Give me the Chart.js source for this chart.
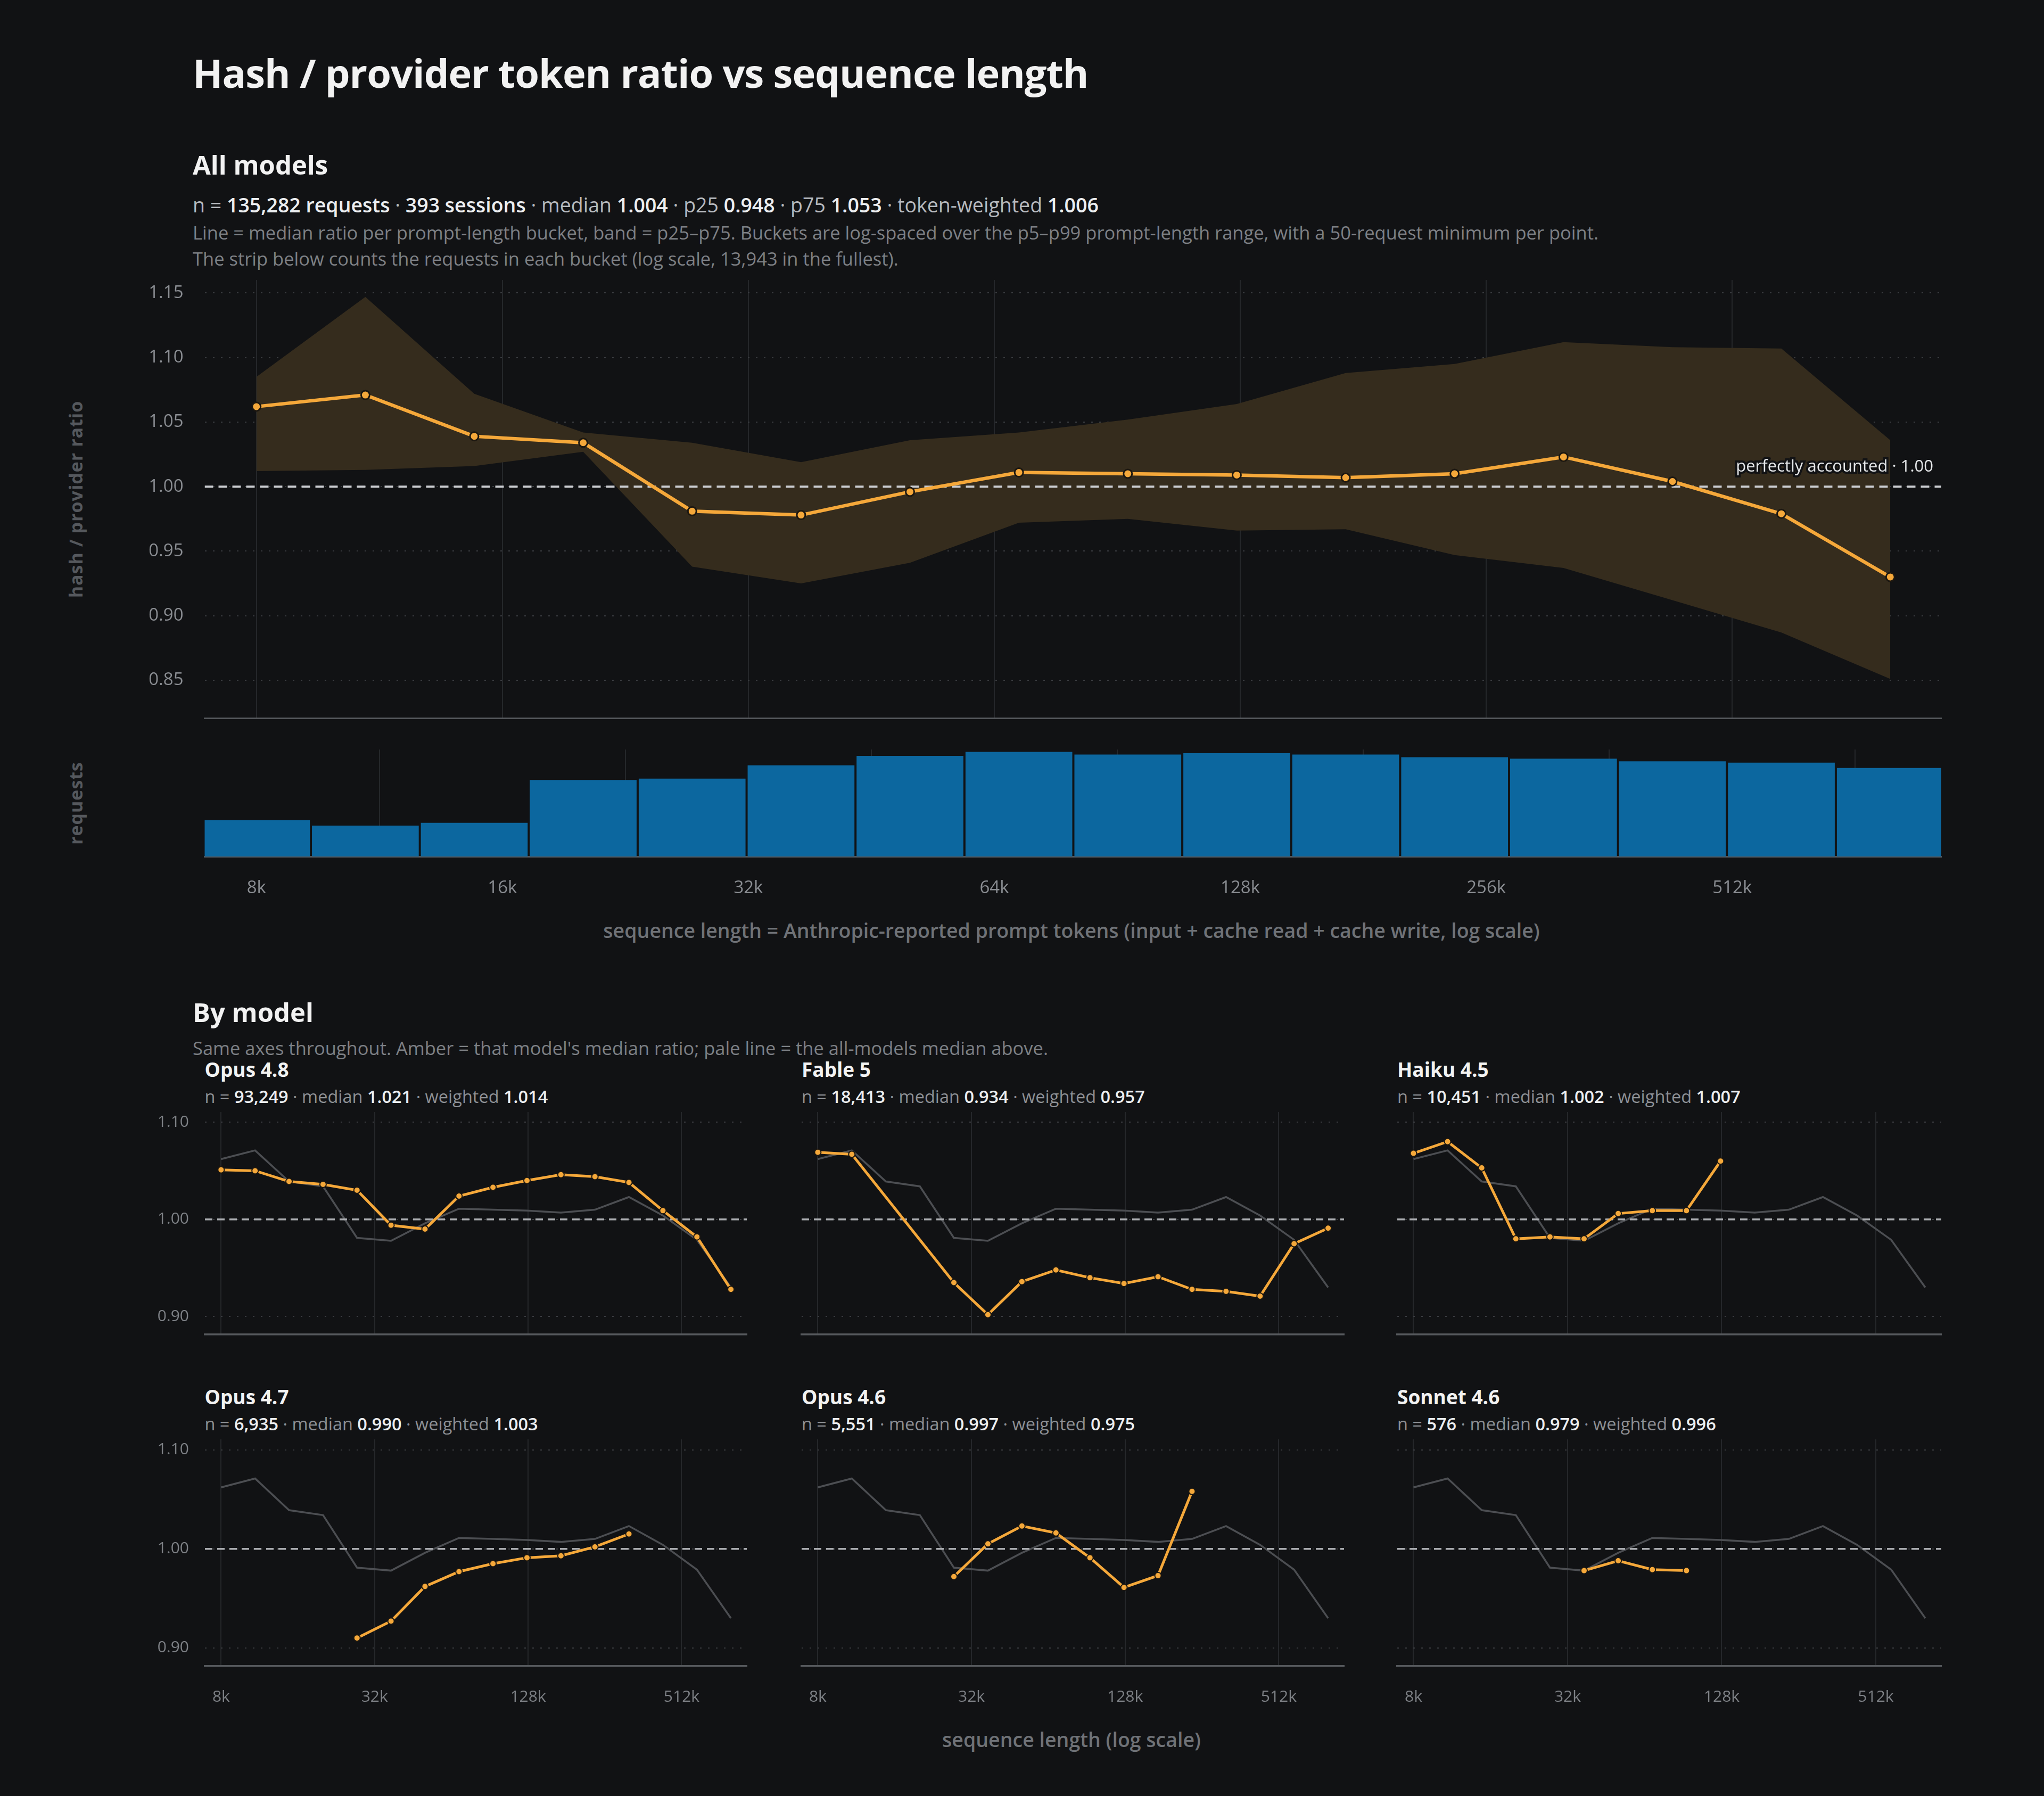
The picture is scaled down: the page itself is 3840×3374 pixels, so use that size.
<!DOCTYPE html>
<html>
<head>
<meta charset="utf-8">
<script src="https://cdn.jsdelivr.net/npm/chart.js@4"></script>
<style>
  body { margin: 0; background: #111214; width: 3840px; height: 3374px; position: relative; overflow: hidden; font-family: "Open Sans", Lato, sans-serif; }
  .t { position: absolute; line-height: 1; white-space: nowrap; }
  canvas { position: absolute; }
  .h1 { left: 362px; top: 100px; font-size: 74px; font-weight: 700; color: #f2f2f2; letter-spacing: -1px; }
  .h2 { font-size: 49px; font-weight: 700; color: #f2f2f2; left: 362px; }
  .stats { left: 362px; top: 366px; font-size: 37.5px; color: #b7babf; }
  .stats b, .small-stats b { color: #eceef0; font-weight: 600; }
  .note { left: 362px; font-size: 34.5px; color: #7d8085; }
  .ytitle { font-size: 34px; font-weight: 700; color: #55585d; transform: translate(-50%, -50%) rotate(-90deg); letter-spacing: 1px; }
  .xtitle { font-size: 37.5px; font-weight: 600; color: #6f7277; transform: translateX(-50%); }
  .small-title { font-size: 37px; font-weight: 700; color: #f2f2f2; }
  .small-stats { font-size: 32.5px; color: #8d9095; }
</style>
</head>
<body>
<div class="t h1">Hash / provider token ratio vs sequence length</div>
<div class="t h2" style="top:285px">All models</div>
<div class="t stats">n = <b>135,282 requests</b> · <b>393 sessions</b> · median <b>1.004</b> · p25 <b>0.948</b> · p75 <b>1.053</b> · token-weighted <b>1.006</b></div>
<div class="t note" style="top:420px">Line = median ratio per prompt-length bucket, band = p25–p75. Buckets are log-spaced over the p5–p99 prompt-length range, with a 50-request minimum per point.</div>
<div class="t note" style="top:469px">The strip below counts the requests in each bucket (log scale, 13,943 in the fullest).</div>
<div class="t ytitle" style="left:142px; top:938px">hash / provider ratio</div>
<div class="t ytitle" style="left:142px; top:1509px">requests</div>
<canvas id="main" width="3840" height="880" style="left:0; top:480px"></canvas>
<canvas id="strip" width="3840" height="340" style="left:0; top:1380px"></canvas>
<div class="t xtitle" style="left:2013px; top:1729px">sequence length = Anthropic-reported prompt tokens (input + cache read + cache write, log scale)</div>

<div class="t h2" style="top:1877px">By model</div>
<div class="t note" style="top:1952px">Same axes throughout. Amber = that model's median ratio; pale line = the all-models median above.</div>
<div id="smalls"></div>
<div class="t xtitle" style="left:2013px; top:3249px">sequence length (log scale)</div>

<script>
// bucket centres (prompt tokens)
const buckets = [8192, 11135, 15135, 20573, 27965, 38013, 51670, 70235, 95468, 129770, 176395, 239773, 325920, 443020, 602190, 818550]
const octaveTicks = [8192, 16384, 32768, 65536, 131072, 262144, 524288]
const smallTicks = [8192, 32768, 131072, 524288]

// all models
const median = [1.062, 1.071, 1.039, 1.034, 0.981, 0.978, 0.996, 1.011, 1.010, 1.009, 1.007, 1.010, 1.023, 1.004, 0.979, 0.930]
const p75 = [1.085, 1.147, 1.072, 1.042, 1.034, 1.019, 1.036, 1.042, 1.052, 1.064, 1.088, 1.095, 1.112, 1.108, 1.107, 1.036]
const p25 = [1.012, 1.013, 1.016, 1.027, 0.938, 0.925, 0.941, 0.972, 0.975, 0.966, 0.967, 0.947, 0.937, 0.912, 0.887, 0.851]
const requestCounts = [850, 680, 760, 4410, 4660, 8060, 11820, 13943, 12500, 13200, 12500, 11190, 10590, 9490, 8990, 7220]

// per model medians (null = under the 50-request minimum)
const models = [
  { name: 'Opus 4.8', n: '93,249', med: '1.021', wtd: '1.014',
    values: [1.051, 1.050, 1.039, 1.036, 1.030, 0.994, 0.990, 1.024, 1.033, 1.040, 1.046, 1.044, 1.038, 1.009, 0.982, 0.928] },
  { name: 'Fable 5', n: '18,413', med: '0.934', wtd: '0.957',
    values: [1.069, 1.067, null, null, 0.935, 0.902, 0.936, 0.948, 0.940, 0.934, 0.941, 0.928, 0.926, 0.921, 0.975, 0.991] },
  { name: 'Haiku 4.5', n: '10,451', med: '1.002', wtd: '1.007',
    values: [1.068, 1.080, 1.053, 0.980, 0.982, 0.980, 1.006, 1.009, 1.009, 1.060, null, null, null, null, null, null] },
  { name: 'Opus 4.7', n: '6,935', med: '0.990', wtd: '1.003',
    values: [null, null, null, null, 0.910, 0.927, 0.962, 0.977, 0.985, 0.991, 0.993, 1.002, 1.015, null, null, null] },
  { name: 'Opus 4.6', n: '5,551', med: '0.997', wtd: '0.975',
    values: [null, null, null, null, 0.972, 1.005, 1.023, 1.016, 0.991, 0.961, 0.973, 1.058, null, null, null, null] },
  { name: 'Sonnet 4.6', n: '576', med: '0.979', wtd: '0.996',
    values: [null, null, null, null, null, 0.978, 0.988, 0.979, 0.978, null, null, null, null, null, null, null] },
]

const X_MIN = 7080, X_MAX = 945000
const AMBER = '#f5a83a'
const BG = '#111214'

Chart.defaults.font.family = '"Open Sans", Lato, sans-serif'
Chart.defaults.color = '#8a8d92'
Chart.defaults.animation = false
Chart.defaults.plugins.legend.display = false
Chart.defaults.plugins.tooltip.enabled = false

const pts = arr => arr.map((v, i) => ({ x: buckets[i], y: v }))
const fmtK = v => (v / 1024) + 'k'
const fixY = w => s => { s.width = w; s.paddingTop = 0; s.paddingBottom = 0 }
const fixX = h => s => { s.height = h; s.paddingLeft = 0; s.paddingRight = 0 }

const refLabel = {
  id: 'refLabel',
  afterDatasetsDraw(chart) {
    const { ctx, chartArea, scales } = chart
    const y = scales.y.getPixelForValue(1.0)
    ctx.save()
    ctx.font = '31px "Open Sans", sans-serif'
    ctx.textAlign = 'right'
    ctx.textBaseline = 'bottom'
    ctx.lineWidth = 8
    ctx.strokeStyle = BG
    ctx.strokeText('perfectly accounted · 1.00', chartArea.right - 15, y - 22)
    ctx.fillStyle = '#e4e6e8'
    ctx.fillText('perfectly accounted · 1.00', chartArea.right - 15, y - 22)
    ctx.restore()
  }
}

// main ratio chart
new Chart(document.getElementById('main'), {
  type: 'line',
  data: {
    datasets: [
      { data: pts(median), borderColor: AMBER, borderWidth: 6.5, pointRadius: 8, pointBackgroundColor: AMBER,
        pointBorderColor: '#1c1710', pointBorderWidth: 3, order: 0 },
      { data: [{ x: X_MIN, y: 1 }, { x: X_MAX, y: 1 }], borderColor: '#c9cbcf', borderWidth: 4,
        borderDash: [16, 10], pointRadius: 0, order: 1 },
      { data: pts(p75), borderWidth: 0, pointRadius: 0, fill: '+1', backgroundColor: '#352c1d', order: 2 },
      { data: pts(p25), borderWidth: 0, pointRadius: 0, order: 3 },
    ]
  },
  options: {
    responsive: false,
    layout: { padding: { top: 46, right: 193, bottom: 11, left: 0 } },
    scales: {
      x: { type: 'logarithmic', min: X_MIN, max: X_MAX,
        afterBuildTicks: s => { s.ticks = octaveTicks.map(v => ({ value: v })) },
        afterFit: fixX(0),
        ticks: { display: false },
        grid: { color: '#25272a', lineWidth: 2, drawTicks: false },
        border: { color: '#55585c', width: 3 } },
      y: { min: 0.8207, max: 1.1601,
        afterBuildTicks: s => { s.ticks = [0.85, 0.9, 0.95, 1.0, 1.05, 1.1, 1.15].map(v => ({ value: v })) },
        afterFit: fixY(384.5),
        ticks: { padding: 40, font: { size: 33 }, color: '#8a8d92', callback: v => v.toFixed(2) },
        grid: { color: '#3a3c40', lineWidth: 2, drawTicks: false },
        border: { display: false, dash: [3, 12] } }
    }
  },
  plugins: [refLabel]
})

// request count strip
new Chart(document.getElementById('strip'), {
  type: 'bar',
  data: {
    datasets: [{ data: pts(requestCounts), backgroundColor: '#0c679f', barThickness: 200 }]
  },
  options: {
    responsive: false,
    layout: { padding: { top: 28, right: 193, bottom: 0, left: 0 } },
    scales: {
      x: { type: 'logarithmic', min: X_MIN, max: X_MAX,
        afterBuildTicks: s => { s.ticks = octaveTicks.map(v => ({ value: v })) },
        afterFit: fixX(111),
        ticks: { padding: 40, font: { size: 33 }, color: '#8a8d92', callback: fmtK, maxRotation: 0, autoSkip: false },
        grid: { color: '#25272a', lineWidth: 2, drawTicks: false },
        border: { color: '#55585c', width: 3 } },
      y: { type: 'logarithmic', min: 193, max: 15500,
        afterFit: fixY(384.5),
        ticks: { display: false },
        grid: { display: false },
        border: { display: false } }
    }
  }
})

// small multiples
const colLeft = [384.5, 1506, 2625]
const colRight = [1403, 2525, 3647]
const rowTitleTop = [1990, 2605]
const rowCanvasTop = [2080, 2695]
const smalls = document.getElementById('smalls')

models.forEach((m, k) => {
  const col = k % 3, row = Math.floor(k / 3)
  const last = row === 1
  const title = document.createElement('div')
  title.className = 't small-title'
  title.style.left = colLeft[col] + 'px'
  title.style.top = rowTitleTop[row] + 'px'
  title.textContent = m.name
  smalls.appendChild(title)
  const stats = document.createElement('div')
  stats.className = 't small-stats'
  stats.style.left = colLeft[col] + 'px'
  stats.style.top = (rowTitleTop[row] + 54) + 'px'
  stats.innerHTML = `n = <b>${m.n}</b> · median <b>${m.med}</b> · weighted <b>${m.wtd}</b>`
  smalls.appendChild(stats)

  const cv = document.createElement('canvas')
  const left = colLeft[col] - 110
  cv.width = colRight[col] + 10 - left
  cv.height = last ? 525 : 435
  cv.style.left = left + 'px'
  cv.style.top = rowCanvasTop[row] + 'px'
  smalls.appendChild(cv)

  new Chart(cv, {
    type: 'line',
    data: {
      datasets: [
        { data: pts(m.values), borderColor: AMBER, borderWidth: 5, pointRadius: 6, pointBackgroundColor: AMBER,
          pointBorderColor: '#1c1710', pointBorderWidth: 2, spanGaps: true, order: 0 },
        { data: [{ x: X_MIN, y: 1 }, { x: X_MAX, y: 1 }], borderColor: '#a9abaf', borderWidth: 3.5,
          borderDash: [14, 9], pointRadius: 0, order: 1 },
        { data: pts(median), borderColor: '#4c4e52', borderWidth: 3.5, pointRadius: 0, order: 2 },
      ]
    },
    options: {
      responsive: false,
      layout: { padding: { top: 9, right: 10, bottom: 0, left: 0 } },
      scales: {
        x: { type: 'logarithmic', min: X_MIN, max: X_MAX,
          afterBuildTicks: s => { s.ticks = smallTicks.map(v => ({ value: v })) },
          afterFit: fixX(last ? 90 : 0),
          ticks: { display: last, padding: 40, font: { size: 30 }, color: '#7d8085', callback: fmtK, maxRotation: 0, autoSkip: false },
          grid: { color: '#25272a', lineWidth: 2, drawTicks: false },
          border: { color: '#55585c', width: 3.5 } },
        y: { min: 0.8816, max: 1.1105,
          afterBuildTicks: s => { s.ticks = [0.9, 1.0, 1.1].map(v => ({ value: v })) },
          afterFit: fixY(110),
          ticks: { display: col === 0, padding: 30, font: { size: 30 }, color: '#7d8085', callback: v => v.toFixed(2) },
          grid: { color: '#3a3c40', lineWidth: 2, drawTicks: false },
          border: { display: false, dash: [3, 12] } }
      }
    }
  })
})
</script>
</body>
</html>
